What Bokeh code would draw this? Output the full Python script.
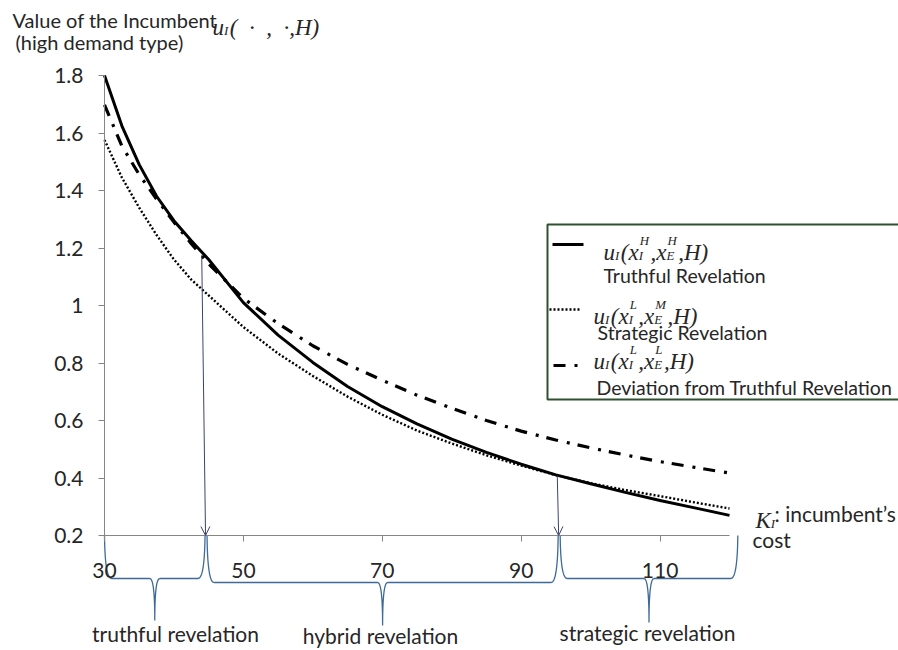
import numpy as np
from bokeh.plotting import figure
from bokeh.models import Range1d, FixedTicker, Label, BoxAnnotation, Arrow, OpenHead
from bokeh.embed import file_html
from bokeh.resources import INLINE

# ---------------- data ----------------
K_COST = [30, 32.5, 35, 37.5, 40, 42.5, 45, 50, 55, 60, 65, 70, 75, 80, 85, 90, 95, 100, 105, 110, 115, 120]
TRUTHFUL = [1.80, 1.625, 1.49, 1.38, 1.295, 1.225, 1.16, 1.01, 0.897, 0.802, 0.718, 0.648, 0.588, 0.535,
            0.489, 0.448, 0.411, 0.380, 0.350, 0.322, 0.296, 0.270]
STRATEGIC = [1.576, 1.445, 1.34, 1.245, 1.16, 1.09, 1.035, 0.925, 0.833, 0.755, 0.683, 0.62, 0.565, 0.52,
             0.479, 0.443, 0.41, 0.382, 0.358, 0.337, 0.315, 0.294]
DEVIATION = [1.698, 1.555, 1.455, 1.37, 1.29, 1.215, 1.145, 1.025, 0.937, 0.86, 0.795, 0.74, 0.688, 0.643,
             0.600, 0.563, 0.532, 0.505, 0.480, 0.457, 0.437, 0.417]

X_TICKS = [30, 50, 70, 90, 110]
Y_TICKS = [0.2, 0.4, 0.6, 0.8, 1, 1.2, 1.4, 1.6, 1.8]
Y_TICK_LABELS = ["0.2", "0.4", "0.6", "0.8", "1", "1.2", "1.4", "1.6", "1.8"]

ARROW_X_TOP = [44.0, 95.2]
ARROW_Y_TOP = [1.175, 0.408]
ARROW_X_BOTTOM = [44.55, 95.4]

REGION_EDGES = [30, 44.55, 95.4, 121.2]
REGION_LABELS = ["truthful revelation", "hybrid revelation", "strategic revelation"]

# ---------------- geometry helpers (canvas px -> data) ----------------
XS = 625 / 90.0      # px per x unit
YS = 287.5           # px per y unit


def X(px):
    return 30 + (px - 104) / XS


def Y(py):
    return 1.8 - (py - 75) / YS


def PX(x):
    return 104 + (x - 30) * XS


TC = "#262626"
AXC = "#868686"
SANS = "Lato"
SERIF = "Liberation Serif"

p = figure(width=898, height=650,
           x_range=Range1d(X(0), X(898)), y_range=Range1d(Y(650), Y(0)),
           output_backend="svg", toolbar_location=None, title=None,
           min_border_left=0, min_border_right=0, min_border_top=0, min_border_bottom=0)
p.outline_line_color = None
p.xgrid.visible = False
p.ygrid.visible = False
p.background_fill_color = "white"
p.border_fill_color = "white"

for ax in (p.xaxis[0], p.yaxis[0]):
    ax.axis_line_color = AXC
    ax.axis_line_width = 1
    ax.major_tick_line_color = AXC
    ax.major_tick_out = 6
    ax.major_tick_in = 0
    ax.minor_tick_line_color = None
    ax.major_label_text_font = SANS
    ax.major_label_text_font_size = "21px"
    ax.major_label_text_color = TC

p.yaxis.fixed_location = 30
p.yaxis.bounds = (0.2, 1.8)
p.yaxis.ticker = FixedTicker(ticks=Y_TICKS)
p.yaxis.major_label_overrides = {t: s for t, s in zip(Y_TICKS, Y_TICK_LABELS)}
p.yaxis.major_label_standoff = 15

p.xaxis.fixed_location = 0.2
p.xaxis.bounds = (30, 120)
p.xaxis.ticker = FixedTicker(ticks=X_TICKS)
p.xaxis.major_label_standoff = 21

# ---------------- legend box ----------------
p.add_layout(BoxAnnotation(left=X(547), right=X(912), top=Y(224), bottom=Y(399),
                           fill_color="white", fill_alpha=1.0, line_color="#2f5130",
                           line_alpha=1.0, line_width=2, level="underlay"))

# ---------------- curves ----------------
DOT = "2 2"
DASHDOT = "12 9 3 8"
p.line(K_COST, TRUTHFUL, line_color="black", line_width=3, line_join="round")
p.line(K_COST, STRATEGIC, line_color="black", line_width=2.4, line_dash=DOT)
p.line(K_COST, DEVIATION, line_color="black", line_width=3.2, line_dash=DASHDOT)

# legend samples
p.line([X(552), X(583)], [Y(244), Y(244)], line_color="black", line_width=3)
p.line([X(549), X(580)], [Y(309), Y(309)], line_color="black", line_width=2.4, line_dash=DOT)
p.line([X(553), X(578)], [Y(365), Y(365)], line_color="black", line_width=3.2, line_dash=DASHDOT)

# ---------------- arrows ----------------
AC = "#3b4373"
for xt, yt, xb in zip(ARROW_X_TOP, ARROW_Y_TOP, ARROW_X_BOTTOM):
    p.add_layout(Arrow(end=OpenHead(size=9, line_color=AC, line_width=1),
                       x_start=xt, y_start=yt, x_end=xb, y_end=0.2,
                       line_color=AC, line_width=1))

# ---------------- braces ----------------
BC = "#3e6a99"


def qbez(p0, p1, p2, n=14):
    t = np.linspace(0, 1, n)[:, None]
    p0, p1, p2 = np.array(p0), np.array(p1), np.array(p2)
    return (1 - t) ** 2 * p0 + 2 * (1 - t) * t * p1 + t ** 2 * p2


def brace(xl, xr, yh, ytip, ya=535, re=7, rm=5):
    xm = (xl + xr) / 2
    pts = np.vstack([
        qbez((xl, ya), (xl + 0.5, yh), (xl + re, yh)),
        qbez((xm - rm, yh), (xm, yh), (xm, ytip)),
        qbez((xm, ytip), (xm, yh), (xm + rm, yh)),
        qbez((xr - re, yh), (xr - 0.5, yh), (xr, ya)),
    ])
    return [X(v) for v in pts[:, 0]], [Y(v) for v in pts[:, 1]]


BRACE_YH = [578, 582, 578]
BRACE_TIP = [620, 625, 622]
LABEL_CX = [175, 380, 647]
LABEL_CY = [633, 635, 632]
for i in range(3):
    xl = PX(REGION_EDGES[i]) + (1.5 if i > 0 else 0)
    xr = PX(REGION_EDGES[i + 1]) - (0.5 if i < 2 else 0)
    bx, by = brace(xl, xr, BRACE_YH[i], BRACE_TIP[i])
    p.line(bx, by, line_color=BC, line_width=1.3)


# ---------------- text ----------------
def sans(text, px, py, align="left", size=21):
    p.add_layout(Label(x=X(px), y=Y(py), text=text, text_font=SANS,
                       text_font_size=f"{size}px", text_color=TC,
                       text_align=align, text_baseline="middle"))


NB = "\u00a0"
TW = {"u": 500, "x": 444, "I": 333, "H": 722, "E": 611, "L": 556, "M": 833, "K": 667,
      "(": 333, ")": 333, ",": 250, " ": 250, NB: 250, "·": 250}


def tw(s, size):
    return sum(TW.get(c, 500) for c in s) / 1000.0 * size


def math(tokens, px, base, size=23, sc=0.56):
    x = px
    for main, sub, sup in tokens:
        if main:
            p.add_layout(Label(x=X(x), y=Y(base), text=main, text_font=SERIF,
                               text_font_style="italic", text_font_size=f"{size}px",
                               text_color=TC, text_align="left", text_baseline="alphabetic"))
            x += tw(main, size)
        w = 0
        ss = size * sc
        if sub:
            p.add_layout(Label(x=X(x), y=Y(base + 0.17 * size), text=sub, text_font=SERIF,
                               text_font_style="italic", text_font_size=f"{ss:.1f}px",
                               text_color=TC, text_align="left", text_baseline="alphabetic"))
            w = max(w, tw(sub, ss))
        if sup:
            p.add_layout(Label(x=X(x + 1), y=Y(base - 0.5 * size), text=sup, text_font=SERIF,
                               text_font_style="italic", text_font_size=f"{ss:.1f}px",
                               text_color=TC, text_align="left", text_baseline="alphabetic"))
            w = max(w, tw(sup, ss) + 1)
        if w:
            x += w + 1.5


# title
sans("Value of the Incumbent", 12, 19, size=20)
math([("u", "I", None), ("(" + NB * 2 + "·" + NB * 2 + "," + NB * 2 + "·,H)", None, None)], 212, 27, size=23)
sans("(high demand type)", 15, 41, size=20)

# x-axis caption
math([("K", "I", None)], 755, 520, size=23)
sans(": incumbent\u2019s", 774, 513)
sans("cost", 752, 539)

# legend texts
LS = 19.5
math([("u", "I", None), ("(x", "I", "H"), (",x", "E", "H"), (",H)", None, None)], 603, 252)
sans("Truthful Revelation", 603, 275, size=LS)
math([("u", "I", None), ("(x", "I", "L"), (",x", "E", "M"), (",H)", None, None)], 593, 316)
sans("Strategic Revelation", 597, 332, size=LS)
math([("u", "I", None), ("(x", "I", "L"), (",x", "E", "L"), (",H)", None, None)], 593, 361)
sans("Deviation from Truthful Revelation", 596, 387, size=LS)

# region labels
for lab, cx, cy in zip(REGION_LABELS, LABEL_CX, LABEL_CY):
    sans(lab, cx, cy, align="center")

open("out.html", "w").write(file_html(p, INLINE))
